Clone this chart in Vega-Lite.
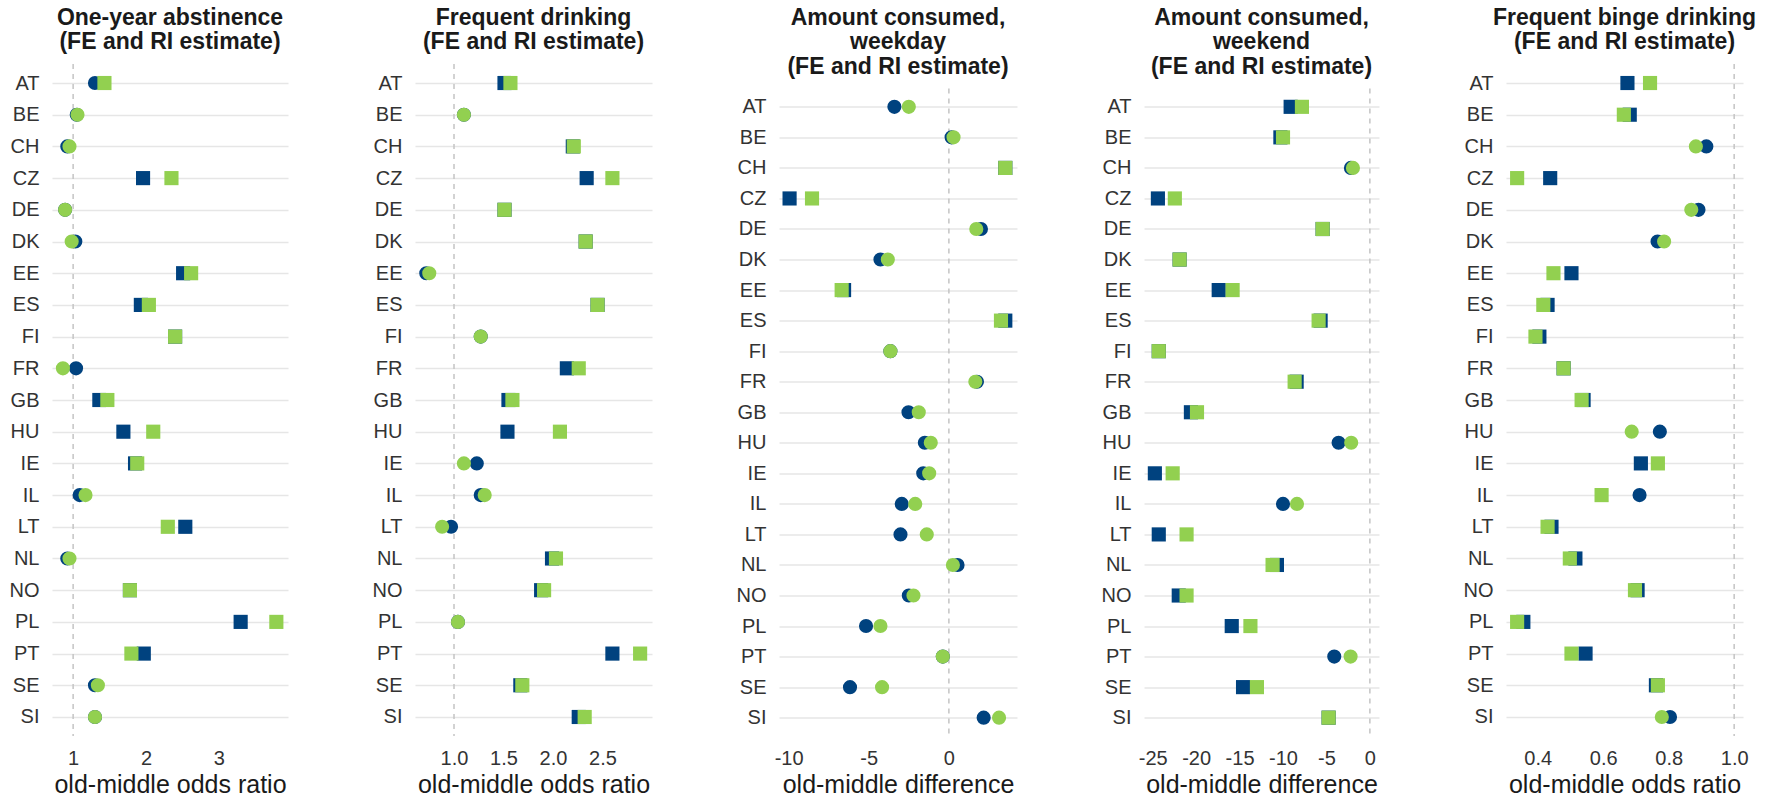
{
  "$schema": "https://vega.github.io/schema/vega-lite/v6.json",
  "padding": {"left": 9, "top": 6, "right": 0, "bottom": 0},
  "datasets": {
    "d1": [
      {"c":"AT","e":"FE","v":1.30,"s":"no"},{"c":"BE","e":"FE","v":1.05,"s":"no"},{"c":"CH","e":"FE","v":0.92,"s":"no"},{"c":"CZ","e":"FE","v":1.96,"s":"yes"},{"c":"DE","e":"FE","v":0.89,"s":"no"},{"c":"DK","e":"FE","v":1.03,"s":"no"},{"c":"EE","e":"FE","v":2.51,"s":"yes"},{"c":"ES","e":"FE","v":1.93,"s":"yes"},{"c":"FI","e":"FE","v":2.40,"s":"yes"},{"c":"FR","e":"FE","v":1.04,"s":"no"},{"c":"GB","e":"FE","v":1.36,"s":"yes"},{"c":"HU","e":"FE","v":1.69,"s":"yes"},{"c":"IE","e":"FE","v":1.85,"s":"yes"},{"c":"IL","e":"FE","v":1.09,"s":"no"},{"c":"LT","e":"FE","v":2.54,"s":"yes"},{"c":"NL","e":"FE","v":0.92,"s":"no"},{"c":"NO","e":"FE","v":1.78,"s":"yes"},{"c":"PL","e":"FE","v":3.30,"s":"yes"},{"c":"PT","e":"FE","v":1.97,"s":"yes"},{"c":"SE","e":"FE","v":1.30,"s":"no"},{"c":"SI","e":"FE","v":1.30,"s":"no"},
      {"c":"AT","e":"RI","v":1.43,"s":"yes"},{"c":"BE","e":"RI","v":1.06,"s":"no"},{"c":"CH","e":"RI","v":0.95,"s":"no"},{"c":"CZ","e":"RI","v":2.35,"s":"yes"},{"c":"DE","e":"RI","v":0.89,"s":"no"},{"c":"DK","e":"RI","v":0.98,"s":"no"},{"c":"EE","e":"RI","v":2.62,"s":"yes"},{"c":"ES","e":"RI","v":2.04,"s":"yes"},{"c":"FI","e":"RI","v":2.40,"s":"yes"},{"c":"FR","e":"RI","v":0.86,"s":"no"},{"c":"GB","e":"RI","v":1.47,"s":"yes"},{"c":"HU","e":"RI","v":2.10,"s":"yes"},{"c":"IE","e":"RI","v":1.88,"s":"yes"},{"c":"IL","e":"RI","v":1.17,"s":"no"},{"c":"LT","e":"RI","v":2.30,"s":"yes"},{"c":"NL","e":"RI","v":0.95,"s":"no"},{"c":"NO","e":"RI","v":1.78,"s":"yes"},{"c":"PL","e":"RI","v":3.79,"s":"yes"},{"c":"PT","e":"RI","v":1.80,"s":"yes"},{"c":"SE","e":"RI","v":1.34,"s":"no"},{"c":"SI","e":"RI","v":1.30,"s":"no"}
    ],
    "d2": [
      {"c":"AT","e":"FE","v":1.51,"s":"yes"},{"c":"BE","e":"FE","v":1.10,"s":"no"},{"c":"CH","e":"FE","v":2.20,"s":"yes"},{"c":"CZ","e":"FE","v":2.34,"s":"yes"},{"c":"DE","e":"FE","v":1.51,"s":"yes"},{"c":"DK","e":"FE","v":2.33,"s":"yes"},{"c":"EE","e":"FE","v":0.72,"s":"no"},{"c":"ES","e":"FE","v":2.45,"s":"yes"},{"c":"FI","e":"FE","v":1.27,"s":"no"},{"c":"FR","e":"FE","v":2.14,"s":"yes"},{"c":"GB","e":"FE","v":1.55,"s":"yes"},{"c":"HU","e":"FE","v":1.54,"s":"yes"},{"c":"IE","e":"FE","v":1.23,"s":"no"},{"c":"IL","e":"FE","v":1.27,"s":"no"},{"c":"LT","e":"FE","v":0.97,"s":"no"},{"c":"NL","e":"FE","v":1.99,"s":"yes"},{"c":"NO","e":"FE","v":1.88,"s":"yes"},{"c":"PL","e":"FE","v":1.04,"s":"no"},{"c":"PT","e":"FE","v":2.60,"s":"yes"},{"c":"SE","e":"FE","v":1.67,"s":"yes"},{"c":"SI","e":"FE","v":2.26,"s":"yes"},
      {"c":"AT","e":"RI","v":1.57,"s":"yes"},{"c":"BE","e":"RI","v":1.10,"s":"no"},{"c":"CH","e":"RI","v":2.21,"s":"yes"},{"c":"CZ","e":"RI","v":2.60,"s":"yes"},{"c":"DE","e":"RI","v":1.51,"s":"yes"},{"c":"DK","e":"RI","v":2.33,"s":"yes"},{"c":"EE","e":"RI","v":0.75,"s":"no"},{"c":"ES","e":"RI","v":2.45,"s":"yes"},{"c":"FI","e":"RI","v":1.27,"s":"no"},{"c":"FR","e":"RI","v":2.26,"s":"yes"},{"c":"GB","e":"RI","v":1.59,"s":"yes"},{"c":"HU","e":"RI","v":2.07,"s":"yes"},{"c":"IE","e":"RI","v":1.10,"s":"no"},{"c":"IL","e":"RI","v":1.31,"s":"no"},{"c":"LT","e":"RI","v":0.88,"s":"no"},{"c":"NL","e":"RI","v":2.03,"s":"yes"},{"c":"NO","e":"RI","v":1.91,"s":"yes"},{"c":"PL","e":"RI","v":1.04,"s":"no"},{"c":"PT","e":"RI","v":2.88,"s":"yes"},{"c":"SE","e":"RI","v":1.69,"s":"yes"},{"c":"SI","e":"RI","v":2.32,"s":"yes"}
    ],
    "d3": [
      {"c":"AT","e":"FE","v":-3.40,"s":"no"},{"c":"BE","e":"FE","v":0.17,"s":"no"},{"c":"CH","e":"FE","v":3.52,"s":"yes"},{"c":"CZ","e":"FE","v":-9.94,"s":"yes"},{"c":"DE","e":"FE","v":2.00,"s":"no"},{"c":"DK","e":"FE","v":-4.27,"s":"no"},{"c":"EE","e":"FE","v":-6.54,"s":"yes"},{"c":"ES","e":"FE","v":3.52,"s":"yes"},{"c":"FI","e":"FE","v":-3.65,"s":"no"},{"c":"FR","e":"FE","v":1.75,"s":"no"},{"c":"GB","e":"FE","v":-2.52,"s":"no"},{"c":"HU","e":"FE","v":-1.50,"s":"no"},{"c":"IE","e":"FE","v":-1.60,"s":"no"},{"c":"IL","e":"FE","v":-2.94,"s":"no"},{"c":"LT","e":"FE","v":-3.02,"s":"no"},{"c":"NL","e":"FE","v":0.54,"s":"no"},{"c":"NO","e":"FE","v":-2.50,"s":"no"},{"c":"PL","e":"FE","v":-5.17,"s":"no"},{"c":"PT","e":"FE","v":-0.38,"s":"no"},{"c":"SE","e":"FE","v":-6.17,"s":"no"},{"c":"SI","e":"FE","v":2.17,"s":"no"},
      {"c":"AT","e":"RI","v":-2.50,"s":"no"},{"c":"BE","e":"RI","v":0.29,"s":"no"},{"c":"CH","e":"RI","v":3.52,"s":"yes"},{"c":"CZ","e":"RI","v":-8.54,"s":"yes"},{"c":"DE","e":"RI","v":1.71,"s":"no"},{"c":"DK","e":"RI","v":-3.81,"s":"no"},{"c":"EE","e":"RI","v":-6.69,"s":"yes"},{"c":"ES","e":"RI","v":3.25,"s":"yes"},{"c":"FI","e":"RI","v":-3.65,"s":"no"},{"c":"FR","e":"RI","v":1.65,"s":"no"},{"c":"GB","e":"RI","v":-1.88,"s":"no"},{"c":"HU","e":"RI","v":-1.13,"s":"no"},{"c":"IE","e":"RI","v":-1.23,"s":"no"},{"c":"IL","e":"RI","v":-2.10,"s":"no"},{"c":"LT","e":"RI","v":-1.38,"s":"no"},{"c":"NL","e":"RI","v":0.25,"s":"no"},{"c":"NO","e":"RI","v":-2.21,"s":"no"},{"c":"PL","e":"RI","v":-4.27,"s":"no"},{"c":"PT","e":"RI","v":-0.38,"s":"no"},{"c":"SE","e":"RI","v":-4.17,"s":"no"},{"c":"SI","e":"RI","v":3.13,"s":"no"}
    ],
    "d4": [
      {"c":"AT","e":"FE","v":-9.12,"s":"yes"},{"c":"BE","e":"FE","v":-10.3,"s":"yes"},{"c":"CH","e":"FE","v":-2.18,"s":"no"},{"c":"CZ","e":"FE","v":-24.4,"s":"yes"},{"c":"DE","e":"FE","v":-5.44,"s":"yes"},{"c":"DK","e":"FE","v":-21.9,"s":"yes"},{"c":"EE","e":"FE","v":-17.4,"s":"yes"},{"c":"ES","e":"FE","v":-5.67,"s":"yes"},{"c":"FI","e":"FE","v":-24.3,"s":"yes"},{"c":"FR","e":"FE","v":-8.43,"s":"yes"},{"c":"GB","e":"FE","v":-20.6,"s":"yes"},{"c":"HU","e":"FE","v":-3.60,"s":"no"},{"c":"IE","e":"FE","v":-24.75,"s":"yes"},{"c":"IL","e":"FE","v":-10.0,"s":"no"},{"c":"LT","e":"FE","v":-24.3,"s":"yes"},{"c":"NL","e":"FE","v":-10.7,"s":"yes"},{"c":"NO","e":"FE","v":-22.0,"s":"yes"},{"c":"PL","e":"FE","v":-15.9,"s":"yes"},{"c":"PT","e":"FE","v":-4.10,"s":"no"},{"c":"SE","e":"FE","v":-14.6,"s":"yes"},{"c":"SI","e":"FE","v":-4.75,"s":"yes"},
      {"c":"AT","e":"RI","v":-7.82,"s":"yes"},{"c":"BE","e":"RI","v":-10.0,"s":"yes"},{"c":"CH","e":"RI","v":-1.95,"s":"no"},{"c":"CZ","e":"RI","v":-22.45,"s":"yes"},{"c":"DE","e":"RI","v":-5.44,"s":"yes"},{"c":"DK","e":"RI","v":-21.9,"s":"yes"},{"c":"EE","e":"RI","v":-15.8,"s":"yes"},{"c":"ES","e":"RI","v":-5.9,"s":"yes"},{"c":"FI","e":"RI","v":-24.3,"s":"yes"},{"c":"FR","e":"RI","v":-8.66,"s":"yes"},{"c":"GB","e":"RI","v":-19.9,"s":"yes"},{"c":"HU","e":"RI","v":-2.15,"s":"no"},{"c":"IE","e":"RI","v":-22.7,"s":"yes"},{"c":"IL","e":"RI","v":-8.39,"s":"no"},{"c":"LT","e":"RI","v":-21.1,"s":"yes"},{"c":"NL","e":"RI","v":-11.2,"s":"yes"},{"c":"NO","e":"RI","v":-21.1,"s":"yes"},{"c":"PL","e":"RI","v":-13.75,"s":"yes"},{"c":"PT","e":"RI","v":-2.22,"s":"no"},{"c":"SE","e":"RI","v":-13.0,"s":"yes"},{"c":"SI","e":"RI","v":-4.75,"s":"yes"}
    ],
    "d5": [
      {"c":"AT","e":"FE","v":0.674,"s":"yes"},{"c":"BE","e":"FE","v":0.681,"s":"yes"},{"c":"CH","e":"FE","v":0.915,"s":"no"},{"c":"CZ","e":"FE","v":0.438,"s":"yes"},{"c":"DE","e":"FE","v":0.891,"s":"no"},{"c":"DK","e":"FE","v":0.766,"s":"no"},{"c":"EE","e":"FE","v":0.503,"s":"yes"},{"c":"ES","e":"FE","v":0.430,"s":"yes"},{"c":"FI","e":"FE","v":0.405,"s":"yes"},{"c":"FR","e":"FE","v":0.479,"s":"yes"},{"c":"GB","e":"FE","v":0.540,"s":"yes"},{"c":"HU","e":"FE","v":0.773,"s":"no"},{"c":"IE","e":"FE","v":0.715,"s":"yes"},{"c":"IL","e":"FE","v":0.711,"s":"no"},{"c":"LT","e":"FE","v":0.442,"s":"yes"},{"c":"NL","e":"FE","v":0.515,"s":"yes"},{"c":"NO","e":"FE","v":0.705,"s":"yes"},{"c":"PL","e":"FE","v":0.356,"s":"yes"},{"c":"PT","e":"FE","v":0.546,"s":"yes"},{"c":"SE","e":"FE","v":0.761,"s":"yes"},{"c":"SI","e":"FE","v":0.804,"s":"no"},
      {"c":"AT","e":"RI","v":0.743,"s":"yes"},{"c":"BE","e":"RI","v":0.663,"s":"yes"},{"c":"CH","e":"RI","v":0.883,"s":"no"},{"c":"CZ","e":"RI","v":0.337,"s":"yes"},{"c":"DE","e":"RI","v":0.869,"s":"no"},{"c":"DK","e":"RI","v":0.786,"s":"no"},{"c":"EE","e":"RI","v":0.448,"s":"yes"},{"c":"ES","e":"RI","v":0.417,"s":"yes"},{"c":"FI","e":"RI","v":0.393,"s":"yes"},{"c":"FR","e":"RI","v":0.479,"s":"yes"},{"c":"GB","e":"RI","v":0.534,"s":"yes"},{"c":"HU","e":"RI","v":0.687,"s":"no"},{"c":"IE","e":"RI","v":0.767,"s":"yes"},{"c":"IL","e":"RI","v":0.595,"s":"yes"},{"c":"LT","e":"RI","v":0.430,"s":"yes"},{"c":"NL","e":"RI","v":0.498,"s":"yes"},{"c":"NO","e":"RI","v":0.697,"s":"yes"},{"c":"PL","e":"RI","v":0.337,"s":"yes"},{"c":"PT","e":"RI","v":0.503,"s":"yes"},{"c":"SE","e":"RI","v":0.767,"s":"yes"},{"c":"SI","e":"RI","v":0.779,"s":"no"}
    ]
  },
  "concat": [
    {
      "width": 236, "height": 672,
      "title": {"text": ["One-year abstinence", "(FE and RI estimate)"]},
      "layer": [
        {"data": {"values": [{}]}, "mark": {"type": "rule", "color": "#c4c4c4", "strokeDash": [5, 5], "strokeWidth": 1.5}, "encoding": {"x": {"datum": 1, "type": "quantitative"}}},
        {"data": {"name": "d1"}, "mark": {"type": "point", "filled": true, "size": 200, "opacity": 1},
          "encoding": {
            "x": {"field": "v", "type": "quantitative", "scale": {"domain": [0.71, 3.95], "nice": false, "zero": false}, "axis": {"values": [1, 2, 3], "format": "d", "title": "old-middle odds ratio"}},
            "y": {"field": "c", "type": "nominal", "title": null, "scale": {"type": "point", "padding": 0.6}},
            "color": {"field": "e", "type": "nominal", "scale": {"domain": ["FE", "RI"], "range": ["#00427f", "#92d050"]}, "legend": null},
            "shape": {"field": "s", "type": "nominal", "scale": {"domain": ["yes", "no"], "range": ["square", "circle"]}, "legend": null}
          }}
      ]
    },
    {
      "width": 237, "height": 672,
      "title": {"text": ["Frequent drinking", "(FE and RI estimate)"]},
      "layer": [
        {"data": {"values": [{}]}, "mark": {"type": "rule", "color": "#c4c4c4", "strokeDash": [5, 5], "strokeWidth": 1.5}, "encoding": {"x": {"datum": 1, "type": "quantitative"}}},
        {"data": {"name": "d2"}, "mark": {"type": "point", "filled": true, "size": 200, "opacity": 1},
          "encoding": {
            "x": {"field": "v", "type": "quantitative", "scale": {"domain": [0.606, 3.0], "nice": false, "zero": false}, "axis": {"values": [1.0, 1.5, 2.0, 2.5], "format": ".1f", "title": "old-middle odds ratio"}},
            "y": {"field": "c", "type": "nominal", "title": null, "scale": {"type": "point", "padding": 0.6}},
            "color": {"field": "e", "type": "nominal", "scale": {"domain": ["FE", "RI"], "range": ["#00427f", "#92d050"]}, "legend": null},
            "shape": {"field": "s", "type": "nominal", "scale": {"domain": ["yes", "no"], "range": ["square", "circle"]}, "legend": null}
          }}
      ]
    },
    {
      "spacing": -58.5,
      "vconcat": [
        {"width": 238, "height": 1, "data": {"values": []}, "mark": {"type": "point", "opacity": 0}, "encoding": {}},
        {
          "width": 238, "height": 647.5,
          "title": {"text": ["Amount consumed,", "weekday", "(FE and RI estimate)"]},
          "layer": [
            {"data": {"values": [{}]}, "mark": {"type": "rule", "color": "#c4c4c4", "strokeDash": [5, 5], "strokeWidth": 1.5}, "encoding": {"x": {"datum": 0, "type": "quantitative"}}},
            {"data": {"name": "d3"}, "mark": {"type": "point", "filled": true, "size": 200, "opacity": 1},
              "encoding": {
                "x": {"field": "v", "type": "quantitative", "scale": {"domain": [-10.6, 4.25], "nice": false, "zero": false}, "axis": {"values": [-10, -5, 0], "labelExpr": "replace(datum.label, '\u2212', '-')", "title": "old-middle difference"}},
                "y": {"field": "c", "type": "nominal", "title": null, "scale": {"type": "point", "padding": 0.6}},
                "color": {"field": "e", "type": "nominal", "scale": {"domain": ["FE", "RI"], "range": ["#00427f", "#92d050"]}, "legend": null},
                "shape": {"field": "s", "type": "nominal", "scale": {"domain": ["yes", "no"], "range": ["square", "circle"]}, "legend": null}
              }}
          ]
        }
      ]
    },
    {
      "spacing": -58.5,
      "vconcat": [
        {"width": 235, "height": 1, "data": {"values": []}, "mark": {"type": "point", "opacity": 0}, "encoding": {}},
        {
          "width": 235, "height": 647.5,
          "title": {"text": ["Amount consumed,", "weekend", "(FE and RI estimate)"]},
          "layer": [
            {"data": {"values": [{}]}, "mark": {"type": "rule", "color": "#c4c4c4", "strokeDash": [5, 5], "strokeWidth": 1.5}, "encoding": {"x": {"datum": 0, "type": "quantitative"}}},
            {"data": {"name": "d4"}, "mark": {"type": "point", "filled": true, "size": 200, "opacity": 1},
              "encoding": {
                "x": {"field": "v", "type": "quantitative", "scale": {"domain": [-26, 1.05], "nice": false, "zero": false}, "axis": {"values": [-25, -20, -15, -10, -5, 0], "labelExpr": "replace(datum.label, '\u2212', '-')", "title": "old-middle difference"}},
                "y": {"field": "c", "type": "nominal", "title": null, "scale": {"type": "point", "padding": 0.6}},
                "color": {"field": "e", "type": "nominal", "scale": {"domain": ["FE", "RI"], "range": ["#00427f", "#92d050"]}, "legend": null},
                "shape": {"field": "s", "type": "nominal", "scale": {"domain": ["yes", "no"], "range": ["square", "circle"]}, "legend": null}
              }}
          ]
        }
      ]
    },
    {
      "width": 237, "height": 672,
      "title": {"text": ["Frequent binge drinking", "(FE and RI estimate)"]},
      "layer": [
        {"data": {"values": [{}]}, "mark": {"type": "rule", "color": "#c4c4c4", "strokeDash": [5, 5], "strokeWidth": 1.5}, "encoding": {"x": {"datum": 1, "type": "quantitative"}}},
        {"data": {"name": "d5"}, "mark": {"type": "point", "filled": true, "size": 200, "opacity": 1},
          "encoding": {
            "x": {"field": "v", "type": "quantitative", "scale": {"domain": [0.303, 1.027], "nice": false, "zero": false}, "axis": {"values": [0.4, 0.6, 0.8, 1.0], "format": ".1f", "title": "old-middle odds ratio"}},
            "y": {"field": "c", "type": "nominal", "title": null, "scale": {"type": "point", "padding": 0.6}},
            "color": {"field": "e", "type": "nominal", "scale": {"domain": ["FE", "RI"], "range": ["#00427f", "#92d050"]}, "legend": null},
            "shape": {"field": "s", "type": "nominal", "scale": {"domain": ["yes", "no"], "range": ["square", "circle"]}, "legend": null}
          }}
      ]
    }
  ],
  "columns": 5,
  "align": "none",
  "bounds": "full",
  "spacing": 84,
  "resolve": {"scale": {"x": "independent", "y": "independent", "color": "shared", "shape": "shared"}},
  "config": {
    "font": "Liberation Sans",
    "background": "white",
    "view": {"stroke": null},
    "title": {"fontSize": 23, "fontWeight": "bold", "lineHeight": 24.5, "offset": 9, "anchor": "middle", "frame": "group", "color": "#1a1a1a"},
    "axisY": {"grid": true, "gridColor": "#e6e6e6", "gridWidth": 1.5, "domain": false, "ticks": false, "tickSize": 0, "labelFontSize": 20, "labelPadding": 13, "labelColor": "#333333"},
    "axisX": {"grid": false, "domain": false, "ticks": false, "tickSize": 0, "labelFontSize": 20, "labelPadding": 12, "labelColor": "#333333", "titleFontSize": 25, "titleFontWeight": "normal", "titleColor": "#1a1a1a", "titlePadding": 4}
  }
}
